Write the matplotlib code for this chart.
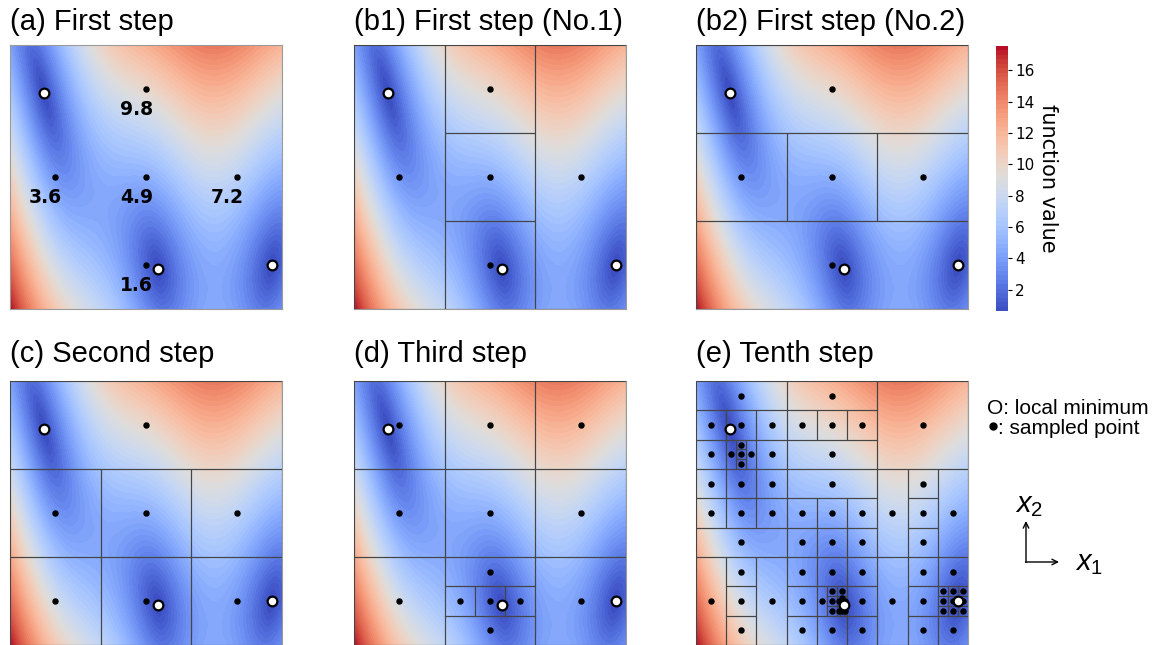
import numpy as np
import matplotlib.pyplot as plt
from matplotlib.patches import Rectangle

plt.rcParams['font.family'] = ['Liberation Sans', 'DejaVu Sans']
plt.rcParams['mathtext.fontset'] = 'custom'
plt.rcParams['mathtext.it'] = 'Liberation Sans:italic'
plt.rcParams['mathtext.rm'] = 'Liberation Sans'

# search domain of the test function (Branin), drawn on the unit square
x1_lim = (-5.0, 10.0)
x2_lim = (0.0, 15.0)

# local minima of the function (x1, x2)
min_x1 = [-3.1416, 3.1416, 9.4248]
min_x2 = [12.275, 2.275, 2.475]

# first step samples (units of 1/81 of the square) and their values
first_u = [40.5, 13.5, 40.5, 67.5, 40.5]
first_v = [67.5, 40.5, 40.5, 40.5, 13.5]
first_vals = ['9.8', '3.6', '4.9', '7.2', '1.6']

titles = ['(a) First step', '(b1) First step (No.1)', '(b2) First step (No.2)',
          '(c) Second step', '(d) Third step', '(e) Tenth step']

# divided rectangles (x0, y0, w, h) in units of 1/81, one sample at each centre
rects_b1 = [(0, 0, 27, 81), (27, 54, 27, 27), (27, 27, 27, 27), (27, 0, 27, 27),
            (54, 0, 27, 81)]
rects_b2 = [(0, 54, 81, 27), (0, 27, 27, 27), (27, 27, 27, 27), (54, 27, 27, 27),
            (0, 0, 81, 27)]
rects_c = [(0, 54, 81, 27), (0, 27, 27, 27), (27, 27, 27, 27), (54, 27, 27, 27),
           (0, 0, 27, 27), (27, 0, 27, 27), (54, 0, 27, 27)]
rects_d = [(0, 54, 27, 27), (27, 54, 27, 27), (54, 54, 27, 27),
           (0, 27, 27, 27), (27, 27, 27, 27), (54, 27, 27, 27),
           (0, 0, 27, 27), (54, 0, 27, 27),
           (27, 18, 27, 9), (27, 9, 9, 9), (36, 9, 9, 9), (45, 9, 9, 9), (27, 0, 27, 9)]
rects_e = [
    # top left
    (0, 72, 27, 9), (0, 63, 9, 9), (9, 63, 9, 9), (18, 63, 9, 9),
    (0, 54, 9, 9), (18, 54, 9, 9),
    (9, 54, 3, 9), (15, 54, 3, 9), (12, 60, 3, 3), (12, 57, 3, 3), (12, 54, 3, 3),
    # top middle
    (27, 72, 27, 9), (27, 63, 9, 9), (36, 63, 9, 9), (45, 63, 9, 9), (27, 54, 27, 9),
    # top right
    (54, 54, 27, 27),
    # middle left
    (0, 45, 9, 9), (9, 45, 9, 9), (18, 45, 9, 9),
    (0, 36, 9, 9), (9, 36, 9, 9), (18, 36, 9, 9), (0, 27, 27, 9),
    # centre
    (27, 45, 27, 9), (27, 36, 9, 9), (36, 36, 9, 9), (45, 36, 9, 9),
    (27, 27, 9, 9), (36, 27, 9, 9), (45, 27, 9, 9),
    # middle right
    (54, 27, 9, 27), (63, 45, 9, 9), (63, 36, 9, 9), (63, 27, 9, 9), (72, 27, 9, 27),
    # bottom left
    (0, 0, 9, 27), (9, 18, 9, 9), (9, 9, 9, 9), (9, 0, 9, 9), (18, 0, 9, 27),
    # bottom middle
    (27, 18, 9, 9), (36, 18, 9, 9), (45, 18, 9, 9),
    (27, 9, 9, 9), (45, 9, 9, 9),
    (27, 0, 9, 9), (36, 0, 9, 9), (45, 0, 9, 9),
    (36, 9, 3, 9), (39, 15, 3, 3), (39, 12, 3, 3), (39, 9, 3, 3),
    (42, 15, 3, 3),
    (42, 12, 1, 3), (44, 12, 1, 3), (43, 14, 1, 1), (43, 13, 1, 1), (43, 12, 1, 1),
    (42, 9, 1, 3), (43, 9, 1, 3), (44, 9, 1, 3),
    # bottom right
    (54, 0, 9, 27), (63, 18, 9, 9), (63, 9, 9, 9), (63, 0, 9, 9),
    (72, 18, 9, 9), (72, 0, 9, 9),
    (72, 15, 3, 3), (75, 15, 3, 3), (78, 15, 3, 3),
    (72, 12, 3, 3), (75, 12, 3, 3), (78, 12, 3, 3),
    (72, 9, 3, 3), (75, 9, 3, 3), (78, 9, 3, 3),
]


def func(x1, x2):
    b = 5.1 / (4 * np.pi ** 2)
    c = 5 / np.pi
    t = 1 / (8 * np.pi)
    return np.sqrt((x2 - b * x1 ** 2 + c * x1 - 6) ** 2 + 10 * (1 - t) * np.cos(x1) + 10)


u = np.linspace(0, 1, 400)
U, V = np.meshgrid(u, u)
F = func(x1_lim[0] + U * (x1_lim[1] - x1_lim[0]), x2_lim[0] + V * (x2_lim[1] - x2_lim[0]))
levels = np.linspace(F.min(), F.max(), 60)

mu = [(x - x1_lim[0]) / (x1_lim[1] - x1_lim[0]) for x in min_x1]
mv = [(y - x2_lim[0]) / (x2_lim[1] - x2_lim[0]) for y in min_x2]

W, H = 1156, 645
fig = plt.figure(figsize=(W / 100, H / 100), dpi=100)

# panel boxes in pixels: left, top, width, height
lefts = [10, 354, 696]
tops = [45, 381]
pw, ph = 272, 264


def draw_panel(ax, rects, pts_u=None, pts_v=None):
    cs = ax.contourf(U, V, F, levels=levels, cmap='coolwarm')
    for (x0, y0, w, h) in rects:
        ax.add_patch(Rectangle((x0 / 81, y0 / 81), w / 81, h / 81, fill=False,
                               ec='#454545', lw=0.8, zorder=3))
    if pts_u is None:
        pts_u = [(r[0] + r[2] / 2) / 81 for r in rects]
        pts_v = [(r[1] + r[3] / 2) / 81 for r in rects]
    ax.plot(pts_u, pts_v, 'o', ls='none', ms=3.6, color='k', zorder=4)
    ax.plot(mu, mv, 'o', ls='none', ms=7, mfc='white', mec='k', mew=1.6, zorder=5)
    ax.set_xlim(0, 1)
    ax.set_ylim(0, 1)
    ax.set_xticks([])
    ax.set_yticks([])
    for s in ax.spines.values():
        s.set_color('#9a9a9a')
        s.set_linewidth(0.8)
    return cs


panel_rects = [None, rects_b1, rects_b2, rects_c, rects_d, rects_e]
cs = None
for i in range(6):
    row, col = divmod(i, 3)
    l, t = lefts[col], tops[row]
    ax = fig.add_axes([l / W, 1 - (t + ph) / H, pw / W, ph / H])
    if i == 0:
        fu = [p / 81 for p in first_u]
        fv = [p / 81 for p in first_v]
        cs = draw_panel(ax, [], fu, fv)
        for x, y, s in zip(fu, fv, first_vals):
            ax.annotate(s, (x, y), xytext=(-7, -15), textcoords='offset points',
                        ha='center', va='center', fontsize=13.5, fontweight='bold',
                        family='DejaVu Sans', zorder=6)
    else:
        draw_panel(ax, panel_rects[i])
    title_base = [30, 362][row]
    fig.text(l / W, 1 - title_base / H, titles[i], fontsize=21, va='baseline', ha='left')

# colorbar
cax = fig.add_axes([996 / W, 1 - 311 / H, 12 / W, 265 / H])
cb = fig.colorbar(cs, cax=cax, ticks=np.arange(2, 17, 2))
cb.outline.set_visible(False)
cb.ax.tick_params(labelsize=11, length=3, width=0.8, pad=2)
for lab in cb.ax.get_yticklabels():
    lab.set_family('DejaVu Sans')
cb.set_label('function value', rotation=270, fontsize=15, labelpad=17, family='DejaVu Sans')

# legend and axis directions
ov = fig.add_axes([0, 0, 1, 1])
ov.set_xlim(0, W)
ov.set_ylim(H, 0)
ov.axis('off')
ov.text(987, 414, 'O: local minimum', fontsize=15, va='baseline')
ov.plot([992.5], [425.5], 'o', ms=5, color='k')
ov.text(998, 434, ': sampled point', fontsize=15, va='baseline')
ov.annotate('', xy=(1026, 521), xytext=(1026, 562.5),
            arrowprops=dict(arrowstyle='->', lw=1, color='k', shrinkA=0, shrinkB=0))
ov.annotate('', xy=(1059, 562), xytext=(1025.5, 562),
            arrowprops=dict(arrowstyle='->', lw=1, color='k', shrinkA=0, shrinkB=0))
ov.text(1015, 512, r'$x_2$', fontsize=21, va='baseline', ha='left')
ov.text(1075, 570, r'$x_1$', fontsize=21, va='baseline', ha='left')

fig.savefig('out.png', dpi=100)
